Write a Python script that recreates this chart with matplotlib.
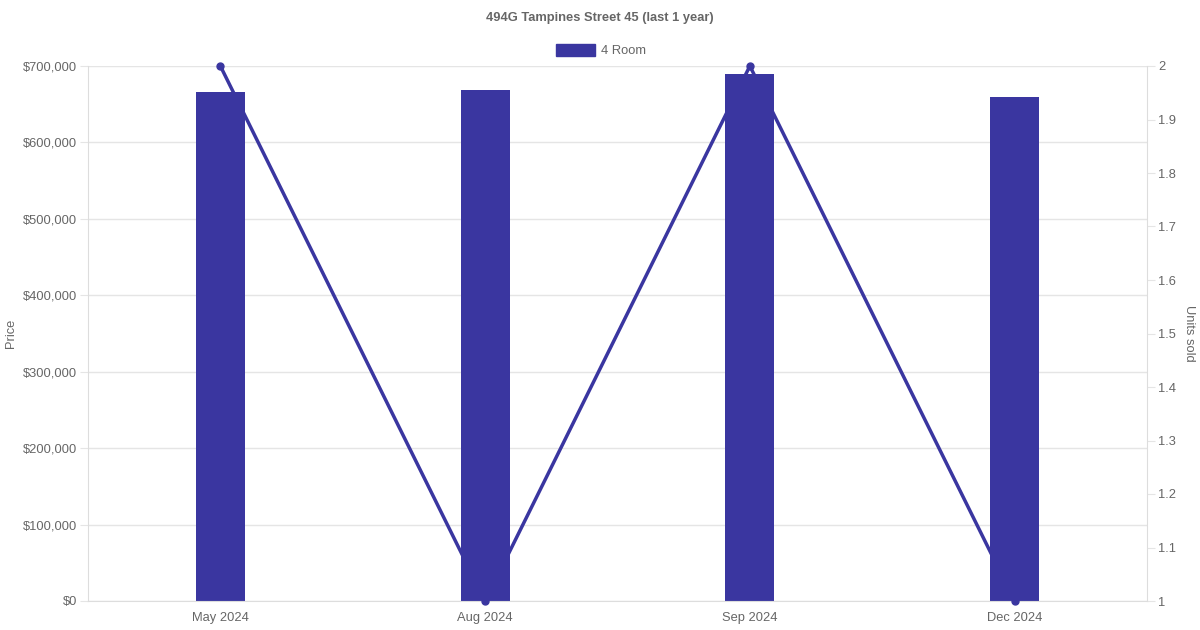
import matplotlib
matplotlib.use("Agg")
import matplotlib.pyplot as plt
from matplotlib.ticker import FuncFormatter, MultipleLocator

categories = ["May 2024", "Aug 2024", "Sep 2024", "Dec 2024"]
prices = [665500, 668500, 689000, 659800]
units = [2, 1, 2, 1]
series_name = "4 Room"
title = "494G Tampines Street 45 (last 1 year)"

color = "#3a36a0"
text_color = "#666666"
grid_color = "#e5e5e5"

plt.rcParams["font.family"] = ["Liberation Sans", "DejaVu Sans"]

fig = plt.figure(figsize=(12, 6.3), dpi=100)
ax = fig.add_axes([88/1200, 1 - 601/630, (1147-88)/1200, (601-66)/630])
x = list(range(len(categories)))
ax.bar(x, prices, width=0.185, color=color, zorder=2)
ax.set_xlim(-0.5, len(categories) - 0.5)
ax.set_ylim(0, 700000)
ax.yaxis.set_major_locator(MultipleLocator(100000))
ax.yaxis.set_major_formatter(FuncFormatter(lambda v, p: f"${v:,.0f}"))
ax.set_xticks(x)
ax.set_xticklabels(categories)
ax.grid(axis="y", color=grid_color, linewidth=1, zorder=0)
for s in ["top", "right"]:
    ax.spines[s].set_visible(False)
for s in ["left", "bottom"]:
    ax.spines[s].set_color("#dddddd")
ax.tick_params(axis="x", colors=text_color, labelsize=9.3, length=0, pad=8)
ax.tick_params(axis="y", colors=text_color, labelsize=9.3, length=5.8, color=grid_color, pad=2)

ax2 = ax.twinx()
ax2.plot(x, units, color=color, linewidth=2.5, marker="o", markersize=5, zorder=3, clip_on=False)
ax2.set_ylim(1, 2)
ax2.yaxis.set_major_locator(MultipleLocator(0.1))
ax2.yaxis.set_major_formatter(FuncFormatter(lambda v, p: f"{v:g}"))
for s in ["top", "left", "bottom"]:
    ax2.spines[s].set_visible(False)
ax2.spines["right"].set_color("#dddddd")
ax2.tick_params(axis="y", colors=text_color, labelsize=9.3, length=5.8, color=grid_color, pad=2)

fig.text(11/1200, 1 - 333/630, "Price", ha="center", va="center", rotation=90, fontsize=9.3, color=text_color)
fig.text(1189/1200, 1 - 333/630, "Units sold", ha="center", va="center", rotation=-90, fontsize=9.3, color=text_color)

fig.text(0.5, 1 - 18/630, title, ha="center", va="center", fontsize=9.3, fontweight="bold", color=text_color)
fig.patches.append(plt.Rectangle((556/1200, 1 - 56/630), 39/1200, 12/630, transform=fig.transFigure,
                                 facecolor=color, edgecolor=color))
fig.text(601/1200, 1 - 51/630, series_name, ha="left", va="center", fontsize=9.3, color=text_color)

fig.savefig("out.png", dpi=100)
